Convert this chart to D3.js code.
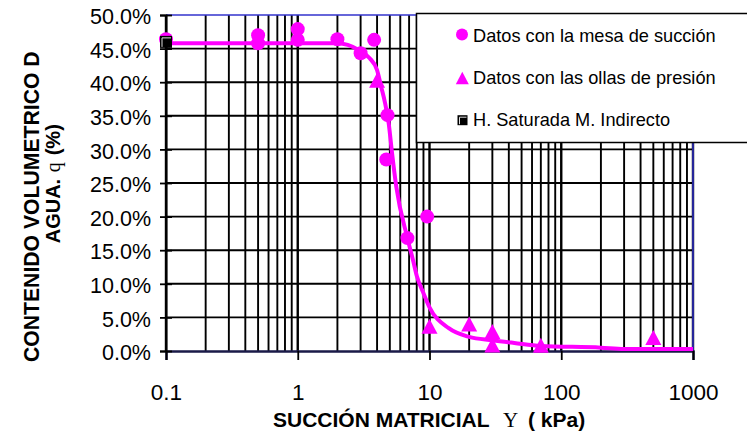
<!DOCTYPE html>
<html>
<head>
<meta charset="utf-8">
<script src="https://d3js.org/d3.v7.min.js"></script>
<style>
  body { margin: 0; background: #fff; }
  svg { display: block; }
  text { font-family: "Liberation Sans", Arial, sans-serif; fill: #000; }
</style>
</head>
<body>
<svg width="747" height="434"></svg>
<script>
// Datos con la mesa de succión (kPa, %)
var mesaSuccion = [0.1, 0.5, 0.5, 1, 1, 2, 3, 3.8, 4.8, 4.7, 6.8, 9.6];
var mesaTheta   = [46.4, 47.0, 45.8, 47.9, 46.3, 46.4, 44.3, 46.3, 35.1, 28.5, 16.8, 20.0];

// Datos con las ollas de presión
var ollasSuccion = [4, 10, 20, 30, 30, 70, 500];
var ollasTheta   = [40.3, 3.7, 4.0, 2.9, 0.9, 0.85, 2.0];

// H. Saturada M. Indirecto
var satSuccion = [0.1];
var satTheta   = [46.0];

// curva ajustada
var curvaSuccion = [0.1, 1, 2, 2.9, 3.5, 4, 4.3, 4.6, 4.9, 5.2, 5.6, 6.8, 7.5, 8, 9, 10, 14, 20, 30, 44, 70, 200, 300, 1000];
var curvaTheta   = [45.8, 45.8, 45.8, 44.8, 43.6, 41.8, 39.3, 36.9, 33.9, 29.4, 24.4, 16.8, 13.5, 11.2, 8.6, 6.5, 3.4, 2.1, 1.6, 1.2, 0.75, 0.5, 0.3, 0.3];

var xTicks = [0.1, 1, 10, 100, 1000];
var xTickLabels = ["0.1", "1", "10", "100", "1000"];
var yTicks = [0, 5, 10, 15, 20, 25, 30, 35, 40, 45, 50];

var legendLabels = ["Datos con la mesa de succión", "Datos con las ollas de presión", "H. Saturada M. Indirecto"];

var magenta = "#ff00ff";

var svg = d3.select("svg");
var plotL = 166, plotR = 693, plotT = 15, plotB = 351;

var x = d3.scaleLog().domain([0.1, 1000]).range([plotL, plotR]);
var y = d3.scaleLinear().domain([0, 50]).range([plotB, plotT]);

// grid verticales (cada 1..9 x decada)
var minor = [];
for (var p = -1; p < 3; p++) {
  for (var k = 1; k <= 9; k++) minor.push(k * Math.pow(10, p));
}
minor.push(1000);

var grid = svg.append("g");
grid.selectAll("line.v")
  .data(minor)
  .enter().append("line")
    .attr("x1", function(d) { return x(d); })
    .attr("x2", function(d) { return x(d); })
    .attr("y1", plotT)
    .attr("y2", plotB)
    .attr("stroke", "#000")
    .attr("stroke-width", function(d) { return xTicks.indexOf(d) >= 0 ? 2.4 : 1.9; });

grid.selectAll("line.h")
  .data(yTicks.slice(1, -1))
  .enter().append("line")
    .attr("x1", plotL)
    .attr("x2", plotR)
    .attr("y1", function(d) { return y(d); })
    .attr("y2", function(d) { return y(d); })
    .attr("stroke", "#000")
    .attr("stroke-width", 1.9);

// borde superior y derecho
svg.append("line").attr("x1", plotL).attr("x2", plotR).attr("y1", plotT).attr("y2", plotT)
  .attr("stroke", "#3333cc").attr("stroke-width", 1.5);
svg.append("line").attr("x1", plotR).attr("x2", plotR).attr("y1", plotT).attr("y2", plotB)
  .attr("stroke", "#3333cc").attr("stroke-width", 1.5);

// ejes
var xAxis = svg.append("g")
  .attr("transform", "translate(0," + plotB + ")")
  .call(d3.axisBottom(x).tickValues(xTicks).tickSize(9).tickPadding(24)
    .tickFormat(function(d, i) { return xTickLabels[i]; }));
xAxis.select(".domain").attr("stroke", "#1a1a48").attr("stroke-width", 2.5);
xAxis.selectAll(".tick line").attr("stroke", "#000").attr("stroke-width", 1.8);
xAxis.selectAll("text").style("font-size", "22.5px").attr("font-family", null);

var yAxis = svg.append("g")
  .attr("transform", "translate(" + plotL + ",0)")
  .call(d3.axisLeft(y).tickValues(yTicks).tickSize(6).tickPadding(9)
    .tickFormat(function(d) { return d.toFixed(1) + "%"; }));
yAxis.select(".domain").attr("stroke", "#000").attr("stroke-width", 2);
yAxis.selectAll(".tick line").attr("x1", 6).attr("stroke", "#000").attr("stroke-width", 1.8);
yAxis.selectAll("text").style("font-size", "21.5px").attr("dy", "0.4em").attr("font-family", null);

// curva
var curva = curvaSuccion.map(function(d, i) { return [d, curvaTheta[i]]; });
svg.append("path")
  .datum(curva)
  .attr("fill", "none")
  .attr("stroke", magenta)
  .attr("stroke-width", 4)
  .attr("stroke-linejoin", "round")
  .attr("d", d3.line()
    .x(function(d) { return x(d[0]); })
    .y(function(d) { return y(d[1]); })
    .curve(d3.curveMonotoneX));

// marcadores
var mesa = mesaSuccion.map(function(d, i) { return [d, mesaTheta[i]]; });
svg.append("g").selectAll("circle")
  .data(mesa)
  .enter().append("circle")
    .attr("cx", function(d) { return x(d[0]); })
    .attr("cy", function(d) { return y(d[1]); })
    .attr("r", 7)
    .attr("fill", magenta);

function tri(cx, cy, w, h) {
  return "M" + cx + "," + (cy - h / 2) + "L" + (cx + w / 2) + "," + (cy + h / 2) + "L" + (cx - w / 2) + "," + (cy + h / 2) + "Z";
}

var ollas = ollasSuccion.map(function(d, i) { return [d, ollasTheta[i]]; });
svg.append("g").selectAll("path")
  .data(ollas)
  .enter().append("path")
    .attr("d", function(d) { return tri(x(d[0]), y(d[1]), 16, 15); })
    .attr("fill", magenta);

function square(g, cx, cy, s) {
  g.append("rect")
    .attr("x", cx - s / 2).attr("y", cy - s / 2)
    .attr("width", s).attr("height", s)
    .attr("fill", "#000");
  g.append("path")
    .attr("d", "M" + (cx - s / 2 + 2) + "," + (cy + s / 2 - 1) + "V" + (cy - s / 2 + 2) + "H" + (cx + s / 2 - 1))
    .attr("fill", "none")
    .attr("stroke", "#ddd")
    .attr("stroke-width", 1);
}
var sat = svg.append("g");
satSuccion.forEach(function(d, i) { square(sat, x(d), y(satTheta[i]), 12); });

// leyenda
var leg = svg.append("g");
leg.append("rect")
  .attr("x", 416.5).attr("y", 13.5)
  .attr("width", 400).attr("height", 129)
  .attr("fill", "#fff").attr("stroke", "#000").attr("stroke-width", 1.5);

var rowY = [41.7, 84, 126];
leg.selectAll("text")
  .data(legendLabels)
  .enter().append("text")
    .attr("x", 473)
    .attr("y", function(d, i) { return rowY[i]; })
    .style("font-size", "18.2px")
    .text(function(d) { return d; });

leg.append("circle").attr("cx", 462).attr("cy", 34.5).attr("r", 6).attr("fill", magenta);
leg.append("path").attr("d", tri(462.3, 78, 13, 12.6)).attr("fill", magenta);
square(leg, 462.5, 120.2, 10);

// titulos de ejes
var xt = svg.append("text")
  .attr("x", 273)
  .attr("y", 427)
  .style("font-size", "21px")
  .style("font-weight", "bold");
xt.append("tspan").text("SUCCIÓN MATRICIAL");
xt.append("tspan").attr("x", 503)
  .style("font-family", "'Liberation Serif', 'Times New Roman', serif")
  .style("font-weight", "normal")
  .text("Y");
xt.append("tspan").attr("x", 528).text("( kPa)");

svg.append("text")
  .attr("transform", "translate(39,206.7) rotate(-90)")
  .attr("text-anchor", "middle")
  .style("font-size", "21.2px")
  .style("font-weight", "bold")
  .text("CONTENIDO VOLUMETRICO D");

var yt = svg.append("text")
  .attr("transform", "translate(60,243.3) rotate(-90)")
  .style("font-size", "20px")
  .style("font-weight", "bold");
yt.append("tspan").attr("x", 0).text("AGUA.");
yt.append("tspan").attr("x", 71)
  .style("font-family", "'Liberation Serif', 'Times New Roman', serif")
  .style("font-weight", "normal")
  .text("q");
yt.append("tspan").attr("x", 88).text("(%)");
</script>
</body>
</html>
